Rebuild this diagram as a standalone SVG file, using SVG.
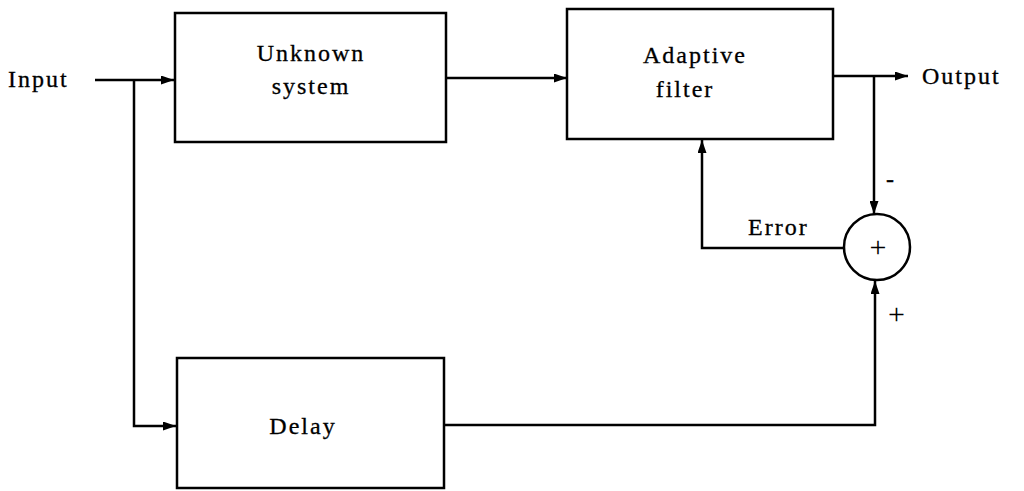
<svg xmlns="http://www.w3.org/2000/svg" width="1024" height="491" viewBox="0 0 1024 491">
  <style>
    .box { fill: #fff; stroke: #000; stroke-width: 2.5; }
    .wire { fill: none; stroke: #000; stroke-width: 2.5; }
    text { font-family: "Liberation Serif", "DejaVu Serif", serif; font-size: 24px; letter-spacing: 2px; fill: #000; stroke: #000; stroke-width: 0.3; }
    .mid { text-anchor: middle; }
    .sign { font-size: 30px; letter-spacing: 0; stroke-width: 0; }
  </style>
  <defs>
    <marker id="arrow" viewBox="0 0 13 9" refX="13" refY="4.5" markerWidth="13" markerHeight="9" markerUnits="userSpaceOnUse" orient="auto">
      <path d="M0,0 L13,4.5 L0,9 Z" fill="#000"/>
    </marker>
  </defs>

  <rect width="1024" height="491" fill="#fff"/>

  <g id="connectors">
    <!-- input to unknown system -->
    <path class="wire" d="M95,80 H174" marker-end="url(#arrow)"/>
    <!-- input branch to delay -->
    <path class="wire" d="M134,80 V426 H176" marker-end="url(#arrow)"/>
    <!-- unknown system to adaptive filter -->
    <path class="wire" d="M446,78 H567" marker-end="url(#arrow)"/>
    <!-- adaptive filter to output -->
    <path class="wire" d="M833,76 H908" marker-end="url(#arrow)"/>
    <!-- output branch to summing junction -->
    <path class="wire" d="M874,76 V214" marker-end="url(#arrow)"/>
    <!-- error feedback -->
    <path class="wire" d="M843,248 H702 V140" marker-end="url(#arrow)"/>
    <!-- delay to summing junction -->
    <path class="wire" d="M444,425 H875 V281" marker-end="url(#arrow)"/>
  </g>

  <g id="input-label">
    <text x="8" y="87">Input</text>
  </g>

  <g id="unknown-system">
    <rect class="box" x="175" y="13" width="271" height="129"/>
    <text class="mid" x="311" y="61">Unknown</text>
    <text class="mid" x="311" y="94">system</text>
  </g>

  <g id="adaptive-filter">
    <rect class="box" x="567" y="9" width="266" height="130"/>
    <text class="mid" x="695" y="63">Adaptive</text>
    <text class="mid" x="685" y="97">filter</text>
  </g>

  <g id="output-label">
    <text x="922" y="84">Output</text>
  </g>

  <g id="summing-junction">
    <circle class="box" cx="877" cy="247" r="33"/>
    <text class="mid sign" x="878" y="257">+</text>
  </g>

  <g id="signs">
    <text x="886" y="187">-</text>
    <text class="sign" x="888" y="324">+</text>
    <text x="748" y="235">Error</text>
  </g>

  <g id="delay">
    <rect class="box" x="177" y="358" width="267" height="130"/>
    <text class="mid" x="303" y="434">Delay</text>
  </g>
</svg>
